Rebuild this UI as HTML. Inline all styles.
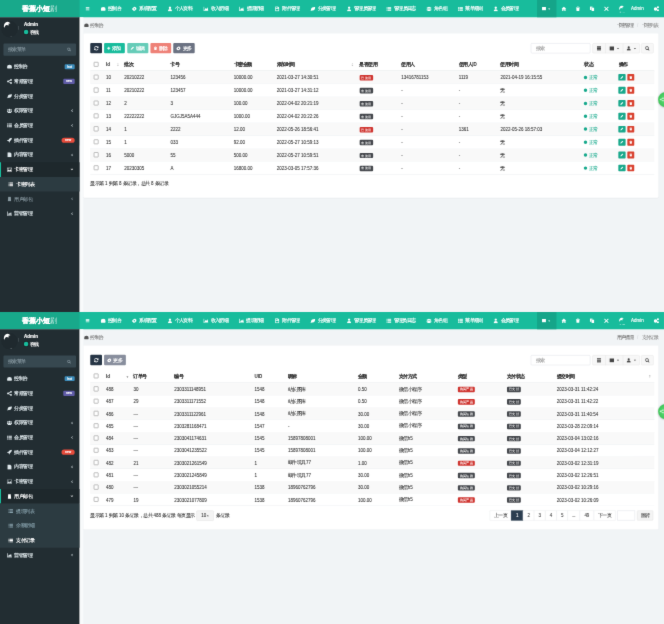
<!DOCTYPE html>
<html lang="zh"><head><meta charset="utf-8"><title>admin</title><style>
html,body{margin:0;padding:0;background:#f1f4f6;overflow:hidden}
#wrap{position:absolute;left:0;top:0;width:664px;height:624px;overflow:hidden;background:#f1f4f6;will-change:transform;filter:url(#soft)}
body{width:664px;height:624px;position:relative;font-family:"Liberation Sans",sans-serif}
#root{position:absolute;left:0;top:0;width:1920px;height:1804px;transform:scale(0.3458333) rotate(0.003deg);transform-origin:0 0;font-size:13px;color:#333;-webkit-text-stroke:0.2px;font-family:"Liberation Sans",sans-serif}
.scr{position:absolute;left:0;width:1920px;height:902.2px;overflow:hidden;background:#f1f4f6}
.a{position:absolute}
.t{height:20px;line-height:20px;white-space:nowrap}
.t30{height:30px;line-height:30px}
.w{-webkit-text-stroke:0.55px}
svg.a{overflow:visible}
</style></head>
<body>

<svg width="0" height="0" style="position:absolute">
<defs>
<symbol id="i-bars" viewBox="0 0 16 16"><path d="M1 2.5h14v2.6H1zM1 6.7h14v2.6H1zM1 10.9h14v2.6H1z"/></symbol>
<symbol id="i-dash" viewBox="0 0 16 16"><path d="M8 2a7.6 7.6 0 0 0-7.6 7.6c0 1.6.5 3.1 1.3 4.4h12.6a8 8 0 0 0 1.3-4.4A7.6 7.6 0 0 0 8 2z"/></symbol>
<symbol id="i-cog" viewBox="0 0 16 16"><path fill-rule="evenodd" d="M8 .8l1.6 1.7 2.3-.5.6 2.3 2.2.8-.7 2.2.7 2.3-2.2.8-.6 2.3-2.3-.5L8 15.2l-1.6-1.7-2.3.5-.6-2.3-2.2-.8.7-2.3L1.300 6.400l2.200-.800.600-2.300 2.300.5zM8 6a2 2 0 1 0 0 4 2 2 0 0 0 0-4z"/></symbol>
<symbol id="i-user" viewBox="0 0 16 16"><circle cx="8" cy="4.600" r="3.600"/><path d="M1.800 15.500c0-4.500 2.600-6.600 6.200-6.600s6.200 2.100 6.200 6.600z"/></symbol>
<symbol id="i-chart" viewBox="0 0 16 16"><path d="M.5 1.500h2v11.500h13v2H.5zM3.500 12l3.200-6.500 2.800 2.800 3.300-5 2.200 8.700z"/></symbol>
<symbol id="i-fileimg" viewBox="0 0 16 16"><path fill-rule="evenodd" d="M2 .5h8.500L14 4v11.500H2zM4 8v5h8V8zM4 3h5v2.500H4z"/></symbol>
<symbol id="i-leaf" viewBox="0 0 16 16"><path d="M15.500 2.500C9 2 3 4 2.500 9.500c-.2 1.500.2 2.600-1.800 4.500l1.300 1c1.500-1.800 2.500-2 5-1.700C13 13.500 15.500 8 15.500 2.500z"/></symbol>
<symbol id="i-users" viewBox="0 0 16 16"><circle cx="8" cy="5" r="3.200"/><circle cx="2.800" cy="5.500" r="2.300"/><circle cx="13.200" cy="5.500" r="2.300"/><path d="M3 15c0-4 2-6 5-6s5 2 5 6zM0 12.500c0-3 1.200-4.300 3-4.300.8 0 1.200.2 1.500.4C3 10 2.600 11.200 2.500 12.500zM16 12.500c0-3-1.200-4.300-3-4.300-.8 0-1.200.2-1.500.4 1.500 1.400 1.900 2.600 2 3.900z"/></symbol>
<symbol id="i-list" viewBox="0 0 16 16"><path d="M.5 2h3.300v3H.5zM5 2h10.500v3H5zM.5 6.500h3.300v3H.5zM5 6.500h10.500v3H5zM.5 11h3.300v3H.5zM5 11h10.500v3H5z"/></symbol>
<symbol id="i-th" viewBox="0 0 16 16"><path d="M.5 1.500h15v13H.5z"/></symbol>
<symbol id="i-refresh" viewBox="0 0 16 16"><path d="M8 1.200A6.800 6.800 0 0 1 13 3.400l1.800-1.800v5.600H9.200l2.100-2.100A4.400 4.400 0 0 0 3.800 6.700H1.300A6.800 6.800 0 0 1 8 1.200zM1.200 8.800h5.600L4.700 10.900a4.400 4.400 0 0 0 7.500-1.600h2.500A6.800 6.800 0 0 1 3 12.600l-1.800 1.800z"/></symbol>
<symbol id="i-plus" viewBox="0 0 16 16"><path d="M6 1.500h4V6h4.500v4H10v4.500H6V10H1.500V6H6z"/></symbol>
<symbol id="i-pencil" viewBox="0 0 16 16"><path d="M11.500 1l3.500 3.500-9 9L1 15l1.500-5z"/></symbol>
<symbol id="i-trash" viewBox="0 0 16 16"><path d="M5.500.8h5l.7 1.500H14.500V4.500h-13V2.300h3.300zM2.700 5.500h10.600l-.8 9.800h-9z"/></symbol>
<symbol id="i-search" viewBox="0 0 16 16"><path fill-rule="evenodd" d="M6.700.8a5.900 5.900 0 0 1 4.800 9.300l3.800 3.800-1.900 1.900-3.800-3.800A5.900 5.900 0 1 1 6.700.8zm0 2.300a3.600 3.600 0 1 0 0 7.200 3.600 3.600 0 0 0 0-7.200z"/></symbol>
<symbol id="i-home" viewBox="0 0 16 16"><path d="M8 1.200L.5 8h2.300v6.500h3.700V10h3v4.500h3.700V8h2.300z"/></symbol>
<symbol id="i-copy" viewBox="0 0 16 16"><path d="M1 1h8.500v3H5.500v8H1zM6.500 5H15v10.500H6.500z"/></symbol>
<symbol id="i-x" viewBox="0 0 16 16"><path d="M1 3l2-2 5 5 5-5 2 2-5 5 5 5-2 2-5-5-5 5-2-2 5-5z"/></symbol>
<symbol id="i-caret" viewBox="0 0 16 16"><path d="M2 5h12l-6 7z"/></symbol>
<symbol id="i-caretup" viewBox="0 0 16 16"><path d="M2 11h12L8 4z"/></symbol>
<symbol id="i-aleft" viewBox="0 0 16 16"><path d="M10.500 2l1.800 1.800L8 8l4.300 4.200-1.800 1.800-6-6z"/></symbol>
<symbol id="i-adown" viewBox="0 0 16 16"><path d="M2 5.500l1.800-1.800L8 8l4.200-4.300L14 5.500l-6 6z"/></symbol>
<symbol id="i-share" viewBox="0 0 16 16"><circle cx="3.300" cy="8" r="2.800"/><circle cx="12.700" cy="3.300" r="2.800"/><circle cx="12.700" cy="12.700" r="2.800"/><path d="M3 7l9.500-4.700.9 1.800L4 8.900zM4 7.100l9.400 4.800-.9 1.800L3 8.900z"/></symbol>
<symbol id="i-rocket" viewBox="0 0 16 16"><path d="M15.500.5c-5 .2-8 2.500-10.500 6.500l-3.500.5L.5 9.500l3.500.5 2 2 .5 3.500 2-1 .5-3.500c4-2.500 6.300-5.500 6.500-10.500z"/></symbol>
<symbol id="i-file" viewBox="0 0 16 16"><path d="M2 .5h8L14 4.500v11H2z"/></symbol>
<symbol id="i-image" viewBox="0 0 16 16"><path fill-rule="evenodd" d="M0 2h16v12H0zM1.500 3.500v9l3.500-4 2.500 2.500 3-4.500 4 6.500V3.500zM4.500 4.500a1.500 1.500 0 1 1 0 3 1.500 1.500 0 0 1 0-3z"/></symbol>
<symbol id="i-cogs" viewBox="0 0 16 16"><circle cx="5.500" cy="9" r="5"/><circle cx="12.500" cy="3.800" r="3"/><circle cx="12.500" cy="12.500" r="3"/></symbol>
<symbol id="i-sort" viewBox="0 0 16 16"><path d="M8 1l4 5.500H4zM8 15l4-5.500H4z"/></symbol>
<symbol id="i-sortd" viewBox="0 0 16 16"><path d="M8 13l5-7H3z"/></symbol>
<symbol id="i-columns" viewBox="0 0 16 16"><path d="M.5 1.500h15v13H.5z"/></symbol>
<symbol id="i-toggle" viewBox="0 0 16 16"><path d="M1.500 1h13v3.500h-13zM1.500 6h13v3.500h-13zM1.500 11h13v4h-13z"/></symbol>
<symbol id="i-export" viewBox="0 0 16 16"><circle cx="8" cy="4.500" r="3.500"/><path d="M1.500 15c0-4.500 2.800-6.500 6.500-6.500s6.500 2 6.500 6.500z"/></symbol>
<symbol id="i-yen" viewBox="0 0 16 16"><path d="M4 1h8l1 14H3z"/></symbol>
</defs></svg>

<svg width="0" height="0" style="position:absolute"><filter id="soft" x="0" y="0" width="100%" height="100%" color-interpolation-filters="sRGB"><feConvolveMatrix order="3" kernelMatrix="0.0074 0.0713 0.0074 0.0713 0.6853 0.0713 0.0074 0.0713 0.0074" divisor="1" edgeMode="duplicate" preserveAlpha="true"/></filter></svg>
<div id="wrap"><div id="root">
<div class="a " style="left:0.0px;top:0.0px;width:1920.0px;height:50.0px;background:#18bc9c"></div>
<div class="a " style="left:0.0px;top:0.0px;width:229.9px;height:50.0px;background:#18a98b"></div>
<div class="a t t30" style="left:-0.2px;width:230px;text-align:center;top:10.44px;color:#fff;font-size:19.5px;;-webkit-text-stroke:.38px"><b style="-webkit-text-stroke:.9px">香蕉小短</b><span style="-webkit-text-stroke:0;opacity:.8">剧</span></div>
<svg class="a" style="left:247.3px;top:18.9px;" width="12.5" height="12.5" fill="#fff"><use href="#i-bars"/></svg>
<svg class="a" style="left:290.7px;top:17.7px;" width="15" height="15" fill="#fff"><use href="#i-dash"/></svg>
<div class="a t " style="left:312.4px;top:14.7px;color:#fff;letter-spacing:-0.5px;-webkit-text-stroke:.38px">控制台</div>
<svg class="a" style="left:380.9px;top:17.7px;" width="15" height="15" fill="#fff"><use href="#i-cog"/></svg>
<div class="a t " style="left:402.5px;top:14.7px;color:#fff;letter-spacing:-0.5px;-webkit-text-stroke:.38px">系统配置</div>
<svg class="a" style="left:483.5px;top:17.7px;" width="15" height="15" fill="#fff"><use href="#i-user"/></svg>
<div class="a t " style="left:505.2px;top:14.7px;color:#fff;letter-spacing:-0.5px;-webkit-text-stroke:.38px">个人资料</div>
<svg class="a" style="left:587.6px;top:17.7px;" width="15" height="15" fill="#fff"><use href="#i-chart"/></svg>
<div class="a t " style="left:609.3px;top:14.7px;color:#fff;letter-spacing:-0.5px;-webkit-text-stroke:.38px">收入明细</div>
<svg class="a" style="left:691.1px;top:17.7px;" width="15" height="15" fill="#fff"><use href="#i-chart"/></svg>
<div class="a t " style="left:712.8px;top:14.7px;color:#fff;letter-spacing:-0.5px;-webkit-text-stroke:.38px">提现明细</div>
<svg class="a" style="left:794.4px;top:17.7px;" width="15" height="15" fill="#fff"><use href="#i-fileimg"/></svg>
<div class="a t " style="left:816.0px;top:14.7px;color:#fff;letter-spacing:-0.5px;-webkit-text-stroke:.38px">附件管理</div>
<svg class="a" style="left:897.0px;top:17.7px;" width="15" height="15" fill="#fff"><use href="#i-leaf"/></svg>
<div class="a t " style="left:918.7px;top:14.7px;color:#fff;letter-spacing:-0.5px;-webkit-text-stroke:.38px">分类管理</div>
<svg class="a" style="left:1001.6px;top:17.7px;" width="15" height="15" fill="#fff"><use href="#i-user"/></svg>
<div class="a t " style="left:1023.3px;top:14.7px;color:#fff;letter-spacing:-0.5px;-webkit-text-stroke:.38px">管理员管理</div>
<svg class="a" style="left:1117.3px;top:17.7px;" width="15" height="15" fill="#fff"><use href="#i-list"/></svg>
<div class="a t " style="left:1138.9px;top:14.7px;color:#fff;letter-spacing:-0.5px;-webkit-text-stroke:.38px">管理员日志</div>
<svg class="a" style="left:1233.4px;top:17.7px;" width="15" height="15" fill="#fff"><use href="#i-users"/></svg>
<div class="a t " style="left:1255.0px;top:14.7px;color:#fff;letter-spacing:-0.5px;-webkit-text-stroke:.38px">角色组</div>
<svg class="a" style="left:1323.5px;top:17.7px;" width="15" height="15" fill="#fff"><use href="#i-list"/></svg>
<div class="a t " style="left:1345.2px;top:14.7px;color:#fff;letter-spacing:-0.5px;-webkit-text-stroke:.38px">菜单规则</div>
<svg class="a" style="left:1426.2px;top:17.7px;" width="15" height="15" fill="#fff"><use href="#i-user"/></svg>
<div class="a t " style="left:1447.8px;top:14.7px;color:#fff;letter-spacing:-0.5px;-webkit-text-stroke:.38px">会员管理</div>
<div class="a " style="left:1552.5px;top:0.0px;width:56.4px;height:50.0px;background:#15a589"></div>
<svg class="a" style="left:1566.7px;top:19.2px;" width="12" height="12" fill="#fff"><use href="#i-th"/></svg>
<svg class="a" style="left:1584.3px;top:21.7px;" width="8" height="8" fill="#fff"><use href="#i-caret"/></svg>
<svg class="a" style="left:1623.3px;top:17.7px;" width="15" height="15" fill="#fff"><use href="#i-home"/></svg>
<svg class="a" style="left:1664.3px;top:18.2px;" width="14" height="14" fill="#fff"><use href="#i-trash"/></svg>
<svg class="a" style="left:1704.8px;top:18.2px;" width="14" height="14" fill="#fff"><use href="#i-copy"/></svg>
<svg class="a" style="left:1745.7px;top:17.7px;" width="15" height="15" fill="#fff"><use href="#i-x"/></svg>
<svg class="a" style="left:1788.1px;top:16.2px" width="17.9" height="13.3" viewBox="0 0 20 18" fill="#fff"><path d="M1 14C1 6 5 1 11 .5c4 0 7 2 8 6-2-1.500-4-1.500-5-.5 1 2 .5 4-1 5.500-1-2-2.500-2.500-4-2C6 10.500 4 12 3 17z"/></svg>
<div class="a " style="left:1791.6px;top:34.4px;width:4.6px;height:1.7px;background:rgba(255,255,255,.75)"></div>
<div class="a " style="left:1800.3px;top:35.0px;width:6.6px;height:1.4px;background:rgba(255,255,255,.6)"></div>
<div class="a t " style="left:1824.6px;top:14.7px;color:#fff;-webkit-text-stroke:.38px">Admin</div>
<svg class="a" style="left:1890.3px;top:17.2px;" width="16" height="16" fill="#fff"><use href="#i-cogs"/></svg>
<svg class="a" style="left:243.4px;top:66.4px;" width="14" height="14" fill="#555"><use href="#i-dash"/></svg>
<div class="a t " style="left:261.7px;top:63.7px;color:#777">控制台</div>
<div class="a t " style="right:16.5px;top:63.7px;letter-spacing:-1px"><span style="color:#777">卡密管理</span><span style="color:#d5d8db;padding:0 10.7px">/</span><span style="color:#888">卡密列表</span></div>
<div class="a " style="left:0.0px;top:50.0px;width:229.9px;height:852.2px;background:#222d32"></div>
<div class="a " style="left:227.6px;top:50.0px;width:2.3px;height:852.2px;background:#141b1f"></div>
<div class="a " style="left:229.9px;top:50.0px;width:11.0px;height:852.2px;background:#f8fafb"></div>
<div class="a" style="left:4.3px;top:60.9px;width:47px;height:47px;border-radius:50%;background:#1f292e"></div>
<svg class="a" style="left:9.8px;top:60.7px" width="20.8" height="22.0" viewBox="0 0 20 18" fill="#fff"><path d="M1 14C1 6 5 1 11 .5c4 0 7 2 8 6-2-1.500-4-1.500-5-.5 1 2 .5 4-1 5.500-1-2-2.500-2.500-4-2C6 10.500 4 12 3 17z"/></svg>
<div class="a " style="left:29.5px;top:104.1px;width:5.8px;height:1.4px;background:#7d878c"></div>
<div class="a " style="left:53.2px;top:75.2px;width:1.7px;height:11.0px;background:#4a555b"></div>
<div class="a t " style="left:69.7px;top:60.7px;color:#fff;font-size:13px;-webkit-text-stroke:.38px"><b>Admin</b></div>
<div class="a" style="left:69.0px;top:86.0px;width:13px;height:13px;border-radius:50%;background:#18bc9c;box-shadow:0 0 0 2px #1a2327"></div>
<div class="a t " style="left:85.6px;top:83.7px;color:#fff;font-size:13px;-webkit-text-stroke:.38px">在线</div>
<div class="a " style="left:9.8px;top:125.5px;width:210.0px;height:35.8px;background:#374850;border-radius:3px"></div>
<div class="a t " style="left:24.0px;top:132.7px;color:#8a9ba3;letter-spacing:-1px">搜索菜单</div>
<svg class="a" style="left:193.5px;top:137.4px;" width="12" height="12" fill="#8a9ba3"><use href="#i-search"/></svg>
<svg class="a" style="left:20.3px;top:185.4px;" width="15" height="15" fill="#dfe8ec"><use href="#i-dash"/></svg>
<div class="a t " style="left:41.9px;top:182.7px;color:#dfe8ec;-webkit-text-stroke:.38px">控制台</div>
<div class="a " style="left:187.4px;top:185.6px;width:28.3px;height:14.5px;background:#3c8dbc;border-radius:3px;color:#fff;font-size:9px;line-height:14px;text-align:center;font-weight:bold">hot</div>
<svg class="a" style="left:20.3px;top:227.9px;" width="15" height="15" fill="#dfe8ec"><use href="#i-share"/></svg>
<div class="a t " style="left:41.9px;top:225.7px;color:#dfe8ec;-webkit-text-stroke:.38px">常规管理</div>
<div class="a " style="left:183.3px;top:228.1px;width:32.4px;height:14.5px;background:#605ca8;border-radius:3px;color:#fff;font-size:9px;line-height:14px;text-align:center;font-weight:bold">new</div>
<svg class="a" style="left:20.3px;top:270.4px;" width="15" height="15" fill="#dfe8ec"><use href="#i-leaf"/></svg>
<div class="a t " style="left:41.9px;top:268.7px;color:#dfe8ec;-webkit-text-stroke:.38px">分类管理</div>
<svg class="a" style="left:20.3px;top:312.9px;" width="15" height="15" fill="#dfe8ec"><use href="#i-users"/></svg>
<div class="a t " style="left:41.9px;top:309.7px;color:#dfe8ec;-webkit-text-stroke:.38px">权限管理</div>
<svg class="a" style="left:203.2px;top:315.4px;" width="10" height="10" fill="#dfe8ec"><use href="#i-aleft"/></svg>
<svg class="a" style="left:20.3px;top:355.4px;" width="15" height="15" fill="#dfe8ec"><use href="#i-list"/></svg>
<div class="a t " style="left:41.9px;top:352.7px;color:#dfe8ec;-webkit-text-stroke:.38px">会员管理</div>
<svg class="a" style="left:203.2px;top:357.9px;" width="10" height="10" fill="#dfe8ec"><use href="#i-aleft"/></svg>
<svg class="a" style="left:20.3px;top:397.9px;" width="15" height="15" fill="#dfe8ec"><use href="#i-rocket"/></svg>
<div class="a t " style="left:41.9px;top:396.7px;color:#dfe8ec;-webkit-text-stroke:.38px">插件管理</div>
<div class="a " style="left:177.5px;top:397.6px;width:38.8px;height:15.6px;background:#e74c3c;border-radius:8px;color:#fff;font-size:9px;line-height:15px;text-align:center;font-weight:bold">new</div>
<svg class="a" style="left:20.3px;top:440.4px;" width="15" height="15" fill="#dfe8ec"><use href="#i-file"/></svg>
<div class="a t " style="left:41.9px;top:436.7px;color:#dfe8ec;-webkit-text-stroke:.38px">内容管理</div>
<svg class="a" style="left:203.2px;top:442.9px;" width="10" height="10" fill="#dfe8ec"><use href="#i-aleft"/></svg>
<div class="a " style="left:0.0px;top:469.2px;width:229.9px;height:42.5px;background:#1e282c"></div>
<div class="a " style="left:0.0px;top:469.2px;width:3.0px;height:42.5px;background:#18bc9c"></div>
<svg class="a" style="left:20.3px;top:482.9px;" width="15" height="15" fill="#fff"><use href="#i-image"/></svg>
<div class="a t " style="left:41.9px;top:479.7px;color:#fff;-webkit-text-stroke:.38px">卡密管理</div>
<svg class="a" style="left:203.2px;top:485.4px;" width="10" height="10" fill="#fff"><use href="#i-adown"/></svg>
<div class="a " style="left:0.0px;top:511.7px;width:229.9px;height:42.5px;background:#2c3b41"></div>
<svg class="a" style="left:23.7px;top:525.9px;" width="14" height="14" fill="#fff"><use href="#i-list"/></svg>
<div class="a t " style="left:47.7px;top:523.7px;color:#fff;-webkit-text-stroke:.38px">卡密列表</div>
<svg class="a" style="left:20.3px;top:567.9px;" width="15" height="15" fill="#8a9aa2"><use href="#i-yen"/></svg>
<div class="a t " style="left:41.9px;top:566.7px;color:#8a9aa2">用户邮包</div>
<svg class="a" style="left:203.2px;top:570.4px;" width="10" height="10" fill="#8a9aa2"><use href="#i-aleft"/></svg>
<svg class="a" style="left:20.3px;top:610.4px;" width="15" height="15" fill="#dfe8ec"><use href="#i-chart"/></svg>
<div class="a t " style="left:41.9px;top:607.7px;color:#dfe8ec;-webkit-text-stroke:.38px">营销管理</div>
<svg class="a" style="left:203.2px;top:612.9px;" width="10" height="10" fill="#dfe8ec"><use href="#i-aleft"/></svg>
<div class="a " style="left:240.9px;top:96.9px;width:1663.5px;height:475.6px;background:#fff;border-radius:3px;box-shadow:0 1px 2px rgba(0,0,0,.06)"></div>
<div class="a " style="left:261.0px;top:123.8px;width:33.9px;height:30.2px;background:#263545;border-radius:3px;"></div>
<svg class="a" style="left:270.7px;top:132.2px;" width="15" height="15" fill="#fff"><use href="#i-refresh"/></svg>
<div class="a " style="left:300.7px;top:123.8px;width:60.7px;height:30.2px;background:#18bc9c;border-radius:3px;"></div>
<svg class="a" style="left:308.5px;top:134.2px;" width="11" height="11" fill="#fff"><use href="#i-plus"/></svg>
<div class="a t " style="left:323.9px;top:130.7px;color:#fff;letter-spacing:-0.5px;-webkit-text-stroke:.38px">添加</div>
<div class="a " style="left:368.0px;top:123.8px;width:61.4px;height:30.2px;background:#66ccb8;border-radius:3px;"></div>
<svg class="a" style="left:377.1px;top:134.2px;" width="11" height="11" fill="#fff"><use href="#i-pencil"/></svg>
<div class="a t " style="left:393.0px;top:130.7px;color:#fff;letter-spacing:-0.5px;-webkit-text-stroke:.38px">编辑</div>
<div class="a " style="left:435.2px;top:123.8px;width:60.0px;height:30.2px;background:#ee8177;border-radius:3px;"></div>
<svg class="a" style="left:444.1px;top:134.2px;" width="11" height="11" fill="#fff"><use href="#i-trash"/></svg>
<div class="a t " style="left:459.5px;top:130.7px;color:#fff;letter-spacing:-0.5px;-webkit-text-stroke:.38px">删除</div>
<div class="a " style="left:501.0px;top:123.8px;width:62.1px;height:30.2px;background:#6b7282;border-radius:3px;"></div>
<svg class="a" style="left:509.4px;top:132.7px;" width="14" height="14" fill="#fff"><use href="#i-cog"/></svg>
<div class="a t " style="left:528.6px;top:130.7px;color:#fff;letter-spacing:-0.5px;-webkit-text-stroke:.38px">更多</div>
<div class="a " style="left:1535.4px;top:125.1px;width:172.1px;height:29.0px;background:#fff;border:1px solid #d2d6de;border-radius:3px;box-sizing:border-box"></div>
<div class="a t " style="left:1550.7px;top:130.7px;color:#999;letter-spacing:-1px">搜索</div>
<div class="a " style="left:1713.3px;top:125.1px;width:136.7px;height:29.0px;background:#f7f7f7;border:1px solid #e0e0e0;border-radius:3px;box-sizing:border-box"></div>
<div class="a " style="left:1750.8px;top:125.1px;width:0.9px;height:29.0px;background:#e0e0e0"></div>
<div class="a " style="left:1801.4px;top:125.1px;width:0.9px;height:29.0px;background:#e0e0e0"></div>
<svg class="a" style="left:1725.0px;top:132.7px;" width="14" height="14" fill="#444"><use href="#i-toggle"/></svg>
<svg class="a" style="left:1762.1px;top:132.7px;" width="14" height="14" fill="#444"><use href="#i-columns"/></svg>
<svg class="a" style="left:1783.0px;top:136.2px;" width="8" height="8" fill="#444"><use href="#i-caret"/></svg>
<svg class="a" style="left:1811.2px;top:132.7px;" width="14" height="14" fill="#444"><use href="#i-export"/></svg>
<svg class="a" style="left:1832.1px;top:136.2px;" width="8" height="8" fill="#444"><use href="#i-caret"/></svg>
<div class="a " style="left:1853.5px;top:125.1px;width:36.4px;height:29.0px;background:#f7f7f7;border:1px solid #e0e0e0;border-radius:3px;box-sizing:border-box"></div>
<svg class="a" style="left:1864.7px;top:132.7px;" width="14" height="14" fill="#444"><use href="#i-search"/></svg>
<div class="a " style="left:261.0px;top:204.1px;width:1631.2px;height:1.5px;background:#e4e7ea"></div>
<div class="a" style="left:270.6px;top:178.5px;width:14.5px;height:14.5px;box-sizing:border-box;border:2.4px solid #a2a2a2;border-radius:2px;background:#fff"></div>
<div class="a t " style="left:306.5px;top:176.7px;font-weight:bold;color:#333;-webkit-text-stroke:.1px">Id</div>
<div class="a t " style="left:359.3px;top:176.7px;font-weight:bold;color:#333;-webkit-text-stroke:.1px">批次</div>
<div class="a t " style="left:493.0px;top:176.7px;font-weight:bold;color:#333;-webkit-text-stroke:.1px">卡号</div>
<div class="a t " style="left:675.9px;top:176.7px;font-weight:bold;color:#333;-webkit-text-stroke:.1px">卡密金额</div>
<div class="a t " style="left:800.2px;top:176.7px;font-weight:bold;color:#333;-webkit-text-stroke:.1px">添加时间</div>
<div class="a t " style="left:1039.5px;top:176.7px;font-weight:bold;color:#333;-webkit-text-stroke:.1px">是否使用</div>
<div class="a t " style="left:1160.2px;top:176.7px;font-weight:bold;color:#333;-webkit-text-stroke:.1px">使用人</div>
<div class="a t " style="left:1326.5px;top:176.7px;font-weight:bold;color:#333;-webkit-text-stroke:.1px">使用人ID</div>
<div class="a t " style="left:1447.2px;top:176.7px;font-weight:bold;color:#333;-webkit-text-stroke:.1px">使用时间</div>
<div class="a t " style="left:1689.4px;top:176.7px;font-weight:bold;color:#333;-webkit-text-stroke:.1px">状态</div>
<div class="a t " style="left:1789.2px;top:176.7px;font-weight:bold;color:#333;-webkit-text-stroke:.1px">操作</div>
<svg class="a" style="left:336.2px;top:181.5px;" width="10" height="10" fill="#bbb"><use href="#i-sort"/></svg>
<svg class="a" style="left:1014.3px;top:181.5px;" width="10" height="10" fill="#bbb"><use href="#i-sort"/></svg>
<div class="a " style="left:261.0px;top:204.9px;width:1631.2px;height:37.4px;background:#f9f9f9"></div>
<div class="a " style="left:261.0px;top:241.7px;width:1631.2px;height:1.0px;background:#eceff1"></div>
<div class="a" style="left:270.6px;top:215.6px;width:14.5px;height:14.5px;box-sizing:border-box;border:2.4px solid #a2a2a2;border-radius:2px;background:#fff"></div>
<div class="a t " style="left:306.5px;top:213.7px;">10</div>
<div class="a t " style="left:359.3px;top:213.7px;">20210222</div>
<div class="a t " style="left:493.0px;top:213.7px;">123456</div>
<div class="a t " style="left:675.9px;top:213.7px;">10000.00</div>
<div class="a t " style="left:800.2px;top:213.7px;">2021-03-27 14:30:51</div>
<div class="a " style="left:1039.8px;top:216.9px;width:39.3px;height:15.9px;background:#cf3530;border-radius:3px;color:rgba(255,255,255,.85);font-size:9.5px;line-height:16px;text-align:center;overflow:hidden;white-space:nowrap">已使用</div>
<div class="a t " style="left:1160.2px;top:213.7px;">13416781153</div>
<div class="a t " style="left:1326.5px;top:213.7px;">1119</div>
<div class="a t " style="left:1447.2px;top:213.7px;">2021-04-19 16:15:55</div>
<div class="a" style="left:1688.0px;top:218.6px;width:10px;height:10px;border-radius:50%;background:#17a98c"></div>
<div class="a t " style="left:1702.6px;top:213.7px;color:#17a98c">正常</div>
<div class="a " style="left:1787.9px;top:213.8px;width:21.1px;height:19.6px;background:#18a88b;border-radius:2px"></div>
<svg class="a" style="left:1793.4px;top:218.6px;" width="10" height="10" fill="#fff"><use href="#i-pencil"/></svg>
<div class="a " style="left:1813.6px;top:213.8px;width:20.5px;height:19.6px;background:#d9412f;border-radius:2px"></div>
<svg class="a" style="left:1818.9px;top:218.6px;" width="10" height="10" fill="#fff"><use href="#i-trash"/></svg>
<div class="a " style="left:261.0px;top:279.2px;width:1631.2px;height:1.0px;background:#eceff1"></div>
<div class="a" style="left:270.6px;top:253.0px;width:14.5px;height:14.5px;box-sizing:border-box;border:2.4px solid #a2a2a2;border-radius:2px;background:#fff"></div>
<div class="a t " style="left:306.5px;top:251.7px;">11</div>
<div class="a t " style="left:359.3px;top:251.7px;">20210222</div>
<div class="a t " style="left:493.0px;top:251.7px;">123457</div>
<div class="a t " style="left:675.9px;top:251.7px;">10000.00</div>
<div class="a t " style="left:800.2px;top:251.7px;">2021-03-27 14:31:12</div>
<div class="a " style="left:1039.8px;top:254.4px;width:39.3px;height:15.9px;background:#45484d;border-radius:3px;color:rgba(255,255,255,.85);font-size:9.5px;line-height:16px;text-align:center;overflow:hidden;white-space:nowrap">未使用</div>
<div class="a t " style="left:1160.2px;top:251.7px;">-</div>
<div class="a t " style="left:1326.5px;top:251.7px;">-</div>
<div class="a t " style="left:1447.2px;top:251.7px;">无</div>
<div class="a" style="left:1688.0px;top:256.0px;width:10px;height:10px;border-radius:50%;background:#17a98c"></div>
<div class="a t " style="left:1702.6px;top:251.7px;color:#17a98c">正常</div>
<div class="a " style="left:1787.9px;top:251.2px;width:21.1px;height:19.7px;background:#18a88b;border-radius:2px"></div>
<svg class="a" style="left:1793.4px;top:256.0px;" width="10" height="10" fill="#fff"><use href="#i-pencil"/></svg>
<div class="a " style="left:1813.6px;top:251.2px;width:20.5px;height:19.7px;background:#d9412f;border-radius:2px"></div>
<svg class="a" style="left:1818.9px;top:256.0px;" width="10" height="10" fill="#fff"><use href="#i-trash"/></svg>
<div class="a " style="left:261.0px;top:279.8px;width:1631.2px;height:37.4px;background:#f9f9f9"></div>
<div class="a " style="left:261.0px;top:316.6px;width:1631.2px;height:1.0px;background:#eceff1"></div>
<div class="a" style="left:270.6px;top:290.5px;width:14.5px;height:14.5px;box-sizing:border-box;border:2.4px solid #a2a2a2;border-radius:2px;background:#fff"></div>
<div class="a t " style="left:306.5px;top:289.7px;">12</div>
<div class="a t " style="left:359.3px;top:289.7px;">2</div>
<div class="a t " style="left:493.0px;top:289.7px;">3</div>
<div class="a t " style="left:675.9px;top:289.7px;">100.00</div>
<div class="a t " style="left:800.2px;top:289.7px;">2022-04-02 20:21:19</div>
<div class="a " style="left:1039.8px;top:291.8px;width:39.3px;height:15.9px;background:#45484d;border-radius:3px;color:rgba(255,255,255,.85);font-size:9.5px;line-height:16px;text-align:center;overflow:hidden;white-space:nowrap">未使用</div>
<div class="a t " style="left:1160.2px;top:289.7px;">-</div>
<div class="a t " style="left:1326.5px;top:289.7px;">-</div>
<div class="a t " style="left:1447.2px;top:289.7px;">无</div>
<div class="a" style="left:1688.0px;top:293.5px;width:10px;height:10px;border-radius:50%;background:#17a98c"></div>
<div class="a t " style="left:1702.6px;top:289.7px;color:#17a98c">正常</div>
<div class="a " style="left:1787.9px;top:288.7px;width:21.1px;height:19.6px;background:#18a88b;border-radius:2px"></div>
<svg class="a" style="left:1793.4px;top:293.5px;" width="10" height="10" fill="#fff"><use href="#i-pencil"/></svg>
<div class="a " style="left:1813.6px;top:288.7px;width:20.5px;height:19.6px;background:#d9412f;border-radius:2px"></div>
<svg class="a" style="left:1818.9px;top:293.5px;" width="10" height="10" fill="#fff"><use href="#i-trash"/></svg>
<div class="a " style="left:261.0px;top:354.1px;width:1631.2px;height:1.0px;background:#eceff1"></div>
<div class="a" style="left:270.6px;top:327.9px;width:14.5px;height:14.5px;box-sizing:border-box;border:2.4px solid #a2a2a2;border-radius:2px;background:#fff"></div>
<div class="a t " style="left:306.5px;top:326.7px;">13</div>
<div class="a t " style="left:359.3px;top:326.7px;">22222222</div>
<div class="a t " style="left:493.0px;top:326.7px;">GJGJ5A5A444</div>
<div class="a t " style="left:675.9px;top:326.7px;">1000.00</div>
<div class="a t " style="left:800.2px;top:326.7px;">2022-04-02 20:22:26</div>
<div class="a " style="left:1039.8px;top:329.3px;width:39.3px;height:15.9px;background:#45484d;border-radius:3px;color:rgba(255,255,255,.85);font-size:9.5px;line-height:16px;text-align:center;overflow:hidden;white-space:nowrap">未使用</div>
<div class="a t " style="left:1160.2px;top:326.7px;">-</div>
<div class="a t " style="left:1326.5px;top:326.7px;">-</div>
<div class="a t " style="left:1447.2px;top:326.7px;">无</div>
<div class="a" style="left:1688.0px;top:330.9px;width:10px;height:10px;border-radius:50%;background:#17a98c"></div>
<div class="a t " style="left:1702.6px;top:326.7px;color:#17a98c">正常</div>
<div class="a " style="left:1787.9px;top:326.1px;width:21.1px;height:19.7px;background:#18a88b;border-radius:2px"></div>
<svg class="a" style="left:1793.4px;top:330.9px;" width="10" height="10" fill="#fff"><use href="#i-pencil"/></svg>
<div class="a " style="left:1813.6px;top:326.1px;width:20.5px;height:19.7px;background:#d9412f;border-radius:2px"></div>
<svg class="a" style="left:1818.9px;top:330.9px;" width="10" height="10" fill="#fff"><use href="#i-trash"/></svg>
<div class="a " style="left:261.0px;top:354.7px;width:1631.2px;height:37.4px;background:#f9f9f9"></div>
<div class="a " style="left:261.0px;top:391.5px;width:1631.2px;height:1.0px;background:#eceff1"></div>
<div class="a" style="left:270.6px;top:365.4px;width:14.5px;height:14.5px;box-sizing:border-box;border:2.4px solid #a2a2a2;border-radius:2px;background:#fff"></div>
<div class="a t " style="left:306.5px;top:364.7px;">14</div>
<div class="a t " style="left:359.3px;top:364.7px;">1</div>
<div class="a t " style="left:493.0px;top:364.7px;">2222</div>
<div class="a t " style="left:675.9px;top:364.7px;">12.00</div>
<div class="a t " style="left:800.2px;top:364.7px;">2022-05-26 18:56:41</div>
<div class="a " style="left:1039.8px;top:366.7px;width:39.3px;height:15.9px;background:#cf3530;border-radius:3px;color:rgba(255,255,255,.85);font-size:9.5px;line-height:16px;text-align:center;overflow:hidden;white-space:nowrap">已使用</div>
<div class="a t " style="left:1160.2px;top:364.7px;">-</div>
<div class="a t " style="left:1326.5px;top:364.7px;">1361</div>
<div class="a t " style="left:1447.2px;top:364.7px;">2022-05-26 18:57:03</div>
<div class="a" style="left:1688.0px;top:368.4px;width:10px;height:10px;border-radius:50%;background:#17a98c"></div>
<div class="a t " style="left:1702.6px;top:364.7px;color:#17a98c">正常</div>
<div class="a " style="left:1787.9px;top:363.5px;width:21.1px;height:19.7px;background:#18a88b;border-radius:2px"></div>
<svg class="a" style="left:1793.4px;top:368.4px;" width="10" height="10" fill="#fff"><use href="#i-pencil"/></svg>
<div class="a " style="left:1813.6px;top:363.5px;width:20.5px;height:19.7px;background:#d9412f;border-radius:2px"></div>
<svg class="a" style="left:1818.9px;top:368.4px;" width="10" height="10" fill="#fff"><use href="#i-trash"/></svg>
<div class="a " style="left:261.0px;top:429.0px;width:1631.2px;height:1.0px;background:#eceff1"></div>
<div class="a" style="left:270.6px;top:402.8px;width:14.5px;height:14.5px;box-sizing:border-box;border:2.4px solid #a2a2a2;border-radius:2px;background:#fff"></div>
<div class="a t " style="left:306.5px;top:401.7px;">15</div>
<div class="a t " style="left:359.3px;top:401.7px;">1</div>
<div class="a t " style="left:493.0px;top:401.7px;">033</div>
<div class="a t " style="left:675.9px;top:401.7px;">92.00</div>
<div class="a t " style="left:800.2px;top:401.7px;">2022-05-27 10:59:13</div>
<div class="a " style="left:1039.8px;top:404.2px;width:39.3px;height:15.9px;background:#45484d;border-radius:3px;color:rgba(255,255,255,.85);font-size:9.5px;line-height:16px;text-align:center;overflow:hidden;white-space:nowrap">未使用</div>
<div class="a t " style="left:1160.2px;top:401.7px;">-</div>
<div class="a t " style="left:1326.5px;top:401.7px;">-</div>
<div class="a t " style="left:1447.2px;top:401.7px;">无</div>
<div class="a" style="left:1688.0px;top:405.8px;width:10px;height:10px;border-radius:50%;background:#17a98c"></div>
<div class="a t " style="left:1702.6px;top:401.7px;color:#17a98c">正常</div>
<div class="a " style="left:1787.9px;top:401.0px;width:21.1px;height:19.7px;background:#18a88b;border-radius:2px"></div>
<svg class="a" style="left:1793.4px;top:405.8px;" width="10" height="10" fill="#fff"><use href="#i-pencil"/></svg>
<div class="a " style="left:1813.6px;top:401.0px;width:20.5px;height:19.7px;background:#d9412f;border-radius:2px"></div>
<svg class="a" style="left:1818.9px;top:405.8px;" width="10" height="10" fill="#fff"><use href="#i-trash"/></svg>
<div class="a " style="left:261.0px;top:429.5px;width:1631.2px;height:37.5px;background:#f9f9f9"></div>
<div class="a " style="left:261.0px;top:466.4px;width:1631.2px;height:1.0px;background:#eceff1"></div>
<div class="a" style="left:270.6px;top:440.3px;width:14.5px;height:14.5px;box-sizing:border-box;border:2.4px solid #a2a2a2;border-radius:2px;background:#fff"></div>
<div class="a t " style="left:306.5px;top:439.7px;">16</div>
<div class="a t " style="left:359.3px;top:439.7px;">5000</div>
<div class="a t " style="left:493.0px;top:439.7px;">55</div>
<div class="a t " style="left:675.9px;top:439.7px;">500.00</div>
<div class="a t " style="left:800.2px;top:439.7px;">2022-05-27 10:59:51</div>
<div class="a " style="left:1039.8px;top:441.6px;width:39.3px;height:15.9px;background:#45484d;border-radius:3px;color:rgba(255,255,255,.85);font-size:9.5px;line-height:16px;text-align:center;overflow:hidden;white-space:nowrap">未使用</div>
<div class="a t " style="left:1160.2px;top:439.7px;">-</div>
<div class="a t " style="left:1326.5px;top:439.7px;">-</div>
<div class="a t " style="left:1447.2px;top:439.7px;">无</div>
<div class="a" style="left:1688.0px;top:443.3px;width:10px;height:10px;border-radius:50%;background:#17a98c"></div>
<div class="a t " style="left:1702.6px;top:439.7px;color:#17a98c">正常</div>
<div class="a " style="left:1787.9px;top:438.4px;width:21.1px;height:19.7px;background:#18a88b;border-radius:2px"></div>
<svg class="a" style="left:1793.4px;top:443.3px;" width="10" height="10" fill="#fff"><use href="#i-pencil"/></svg>
<div class="a " style="left:1813.6px;top:438.4px;width:20.5px;height:19.7px;background:#d9412f;border-radius:2px"></div>
<svg class="a" style="left:1818.9px;top:443.3px;" width="10" height="10" fill="#fff"><use href="#i-trash"/></svg>
<div class="a " style="left:261.0px;top:503.9px;width:1631.2px;height:1.0px;background:#eceff1"></div>
<div class="a" style="left:270.6px;top:477.7px;width:14.5px;height:14.5px;box-sizing:border-box;border:2.4px solid #a2a2a2;border-radius:2px;background:#fff"></div>
<div class="a t " style="left:306.5px;top:477.7px;">17</div>
<div class="a t " style="left:359.3px;top:477.7px;">20230305</div>
<div class="a t " style="left:493.0px;top:477.7px;">A</div>
<div class="a t " style="left:675.9px;top:477.7px;">16800.00</div>
<div class="a t " style="left:800.2px;top:477.7px;">2023-03-05 17:57:36</div>
<div class="a " style="left:1039.8px;top:479.1px;width:39.3px;height:15.9px;background:#45484d;border-radius:3px;color:rgba(255,255,255,.85);font-size:9.5px;line-height:16px;text-align:center;overflow:hidden;white-space:nowrap">未使用</div>
<div class="a t " style="left:1160.2px;top:477.7px;">-</div>
<div class="a t " style="left:1326.5px;top:477.7px;">-</div>
<div class="a t " style="left:1447.2px;top:477.7px;">无</div>
<div class="a" style="left:1688.0px;top:480.7px;width:10px;height:10px;border-radius:50%;background:#17a98c"></div>
<div class="a t " style="left:1702.6px;top:477.7px;color:#17a98c">正常</div>
<div class="a " style="left:1787.9px;top:475.9px;width:21.1px;height:19.6px;background:#18a88b;border-radius:2px"></div>
<svg class="a" style="left:1793.4px;top:480.7px;" width="10" height="10" fill="#fff"><use href="#i-pencil"/></svg>
<div class="a " style="left:1813.6px;top:475.9px;width:20.5px;height:19.6px;background:#d9412f;border-radius:2px"></div>
<svg class="a" style="left:1818.9px;top:480.7px;" width="10" height="10" fill="#fff"><use href="#i-trash"/></svg>
<div class="a t " style="left:261.0px;top:520.7px;color:#333">显示第 1 到第 8 条记录，总共 8 条记录</div>
<div class="a" style="left:1902.6px;top:265.7px;width:44px;height:44px;border-radius:50%;background:radial-gradient(circle,#62e07a 0%,#45c95e 60%,#2fa84a 100%);box-shadow:0 1px 5px rgba(0,0,0,.35)"></div><svg class="a" style="left:1907.1px;top:281.2px;" width="13" height="13" fill="#c9f7d1"><use href="#i-share"/></svg>
<div class="a " style="left:0.0px;top:902.2px;width:1920.0px;height:50.0px;background:#18bc9c"></div>
<div class="a " style="left:0.0px;top:902.2px;width:229.9px;height:50.0px;background:#18a98b"></div>
<div class="a t t30" style="left:-0.2px;width:230px;text-align:center;top:912.44px;color:#fff;font-size:19.5px;;-webkit-text-stroke:.38px"><b style="-webkit-text-stroke:.9px">香蕉小短</b><span style="-webkit-text-stroke:0;opacity:.8">剧</span></div>
<svg class="a" style="left:247.3px;top:921.0px;" width="12.5" height="12.5" fill="#fff"><use href="#i-bars"/></svg>
<svg class="a" style="left:290.7px;top:919.8px;" width="15" height="15" fill="#fff"><use href="#i-dash"/></svg>
<div class="a t " style="left:312.4px;top:916.7px;color:#fff;letter-spacing:-0.5px;-webkit-text-stroke:.38px">控制台</div>
<svg class="a" style="left:380.9px;top:919.8px;" width="15" height="15" fill="#fff"><use href="#i-cog"/></svg>
<div class="a t " style="left:402.5px;top:916.7px;color:#fff;letter-spacing:-0.5px;-webkit-text-stroke:.38px">系统配置</div>
<svg class="a" style="left:483.5px;top:919.8px;" width="15" height="15" fill="#fff"><use href="#i-user"/></svg>
<div class="a t " style="left:505.2px;top:916.7px;color:#fff;letter-spacing:-0.5px;-webkit-text-stroke:.38px">个人资料</div>
<svg class="a" style="left:587.6px;top:919.8px;" width="15" height="15" fill="#fff"><use href="#i-chart"/></svg>
<div class="a t " style="left:609.3px;top:916.7px;color:#fff;letter-spacing:-0.5px;-webkit-text-stroke:.38px">收入明细</div>
<svg class="a" style="left:691.1px;top:919.8px;" width="15" height="15" fill="#fff"><use href="#i-chart"/></svg>
<div class="a t " style="left:712.8px;top:916.7px;color:#fff;letter-spacing:-0.5px;-webkit-text-stroke:.38px">提现明细</div>
<svg class="a" style="left:794.4px;top:919.8px;" width="15" height="15" fill="#fff"><use href="#i-fileimg"/></svg>
<div class="a t " style="left:816.0px;top:916.7px;color:#fff;letter-spacing:-0.5px;-webkit-text-stroke:.38px">附件管理</div>
<svg class="a" style="left:897.0px;top:919.8px;" width="15" height="15" fill="#fff"><use href="#i-leaf"/></svg>
<div class="a t " style="left:918.7px;top:916.7px;color:#fff;letter-spacing:-0.5px;-webkit-text-stroke:.38px">分类管理</div>
<svg class="a" style="left:1001.6px;top:919.8px;" width="15" height="15" fill="#fff"><use href="#i-user"/></svg>
<div class="a t " style="left:1023.3px;top:916.7px;color:#fff;letter-spacing:-0.5px;-webkit-text-stroke:.38px">管理员管理</div>
<svg class="a" style="left:1117.3px;top:919.8px;" width="15" height="15" fill="#fff"><use href="#i-list"/></svg>
<div class="a t " style="left:1138.9px;top:916.7px;color:#fff;letter-spacing:-0.5px;-webkit-text-stroke:.38px">管理员日志</div>
<svg class="a" style="left:1233.4px;top:919.8px;" width="15" height="15" fill="#fff"><use href="#i-users"/></svg>
<div class="a t " style="left:1255.0px;top:916.7px;color:#fff;letter-spacing:-0.5px;-webkit-text-stroke:.38px">角色组</div>
<svg class="a" style="left:1323.5px;top:919.8px;" width="15" height="15" fill="#fff"><use href="#i-list"/></svg>
<div class="a t " style="left:1345.2px;top:916.7px;color:#fff;letter-spacing:-0.5px;-webkit-text-stroke:.38px">菜单规则</div>
<svg class="a" style="left:1426.2px;top:919.8px;" width="15" height="15" fill="#fff"><use href="#i-user"/></svg>
<div class="a t " style="left:1447.8px;top:916.7px;color:#fff;letter-spacing:-0.5px;-webkit-text-stroke:.38px">会员管理</div>
<div class="a " style="left:1552.5px;top:902.2px;width:56.4px;height:50.0px;background:#15a589"></div>
<svg class="a" style="left:1566.7px;top:921.3px;" width="12" height="12" fill="#fff"><use href="#i-th"/></svg>
<svg class="a" style="left:1584.3px;top:923.9px;" width="8" height="8" fill="#fff"><use href="#i-caret"/></svg>
<svg class="a" style="left:1623.3px;top:919.8px;" width="15" height="15" fill="#fff"><use href="#i-home"/></svg>
<svg class="a" style="left:1664.3px;top:920.3px;" width="14" height="14" fill="#fff"><use href="#i-trash"/></svg>
<svg class="a" style="left:1704.8px;top:920.3px;" width="14" height="14" fill="#fff"><use href="#i-copy"/></svg>
<svg class="a" style="left:1745.7px;top:919.8px;" width="15" height="15" fill="#fff"><use href="#i-x"/></svg>
<svg class="a" style="left:1788.1px;top:918.4px" width="17.9" height="13.3" viewBox="0 0 20 18" fill="#fff"><path d="M1 14C1 6 5 1 11 .5c4 0 7 2 8 6-2-1.500-4-1.500-5-.5 1 2 .5 4-1 5.500-1-2-2.500-2.500-4-2C6 10.500 4 12 3 17z"/></svg>
<div class="a " style="left:1791.6px;top:936.6px;width:4.6px;height:1.7px;background:rgba(255,255,255,.75)"></div>
<div class="a " style="left:1800.3px;top:937.2px;width:6.6px;height:1.4px;background:rgba(255,255,255,.6)"></div>
<div class="a t " style="left:1824.6px;top:916.7px;color:#fff;-webkit-text-stroke:.38px">Admin</div>
<svg class="a" style="left:1890.3px;top:919.3px;" width="16" height="16" fill="#fff"><use href="#i-cogs"/></svg>
<svg class="a" style="left:243.4px;top:968.6px;" width="14" height="14" fill="#555"><use href="#i-dash"/></svg>
<div class="a t " style="left:261.7px;top:965.7px;color:#777">控制台</div>
<div class="a t " style="right:16.5px;top:965.7px;letter-spacing:-1px"><span style="color:#777">用户提现</span><span style="color:#d5d8db;padding:0 10.7px">/</span><span style="color:#888">支付记录</span></div>
<div class="a " style="left:0.0px;top:952.2px;width:229.9px;height:852.1px;background:#222d32"></div>
<div class="a " style="left:227.6px;top:952.2px;width:2.3px;height:852.1px;background:#141b1f"></div>
<div class="a " style="left:229.9px;top:952.2px;width:11.0px;height:852.1px;background:#f8fafb"></div>
<div class="a" style="left:4.3px;top:963.1px;width:47px;height:47px;border-radius:50%;background:#1f292e"></div>
<svg class="a" style="left:9.8px;top:962.9px" width="20.8" height="22.0" viewBox="0 0 20 18" fill="#fff"><path d="M1 14C1 6 5 1 11 .5c4 0 7 2 8 6-2-1.500-4-1.500-5-.5 1 2 .5 4-1 5.500-1-2-2.500-2.500-4-2C6 10.500 4 12 3 17z"/></svg>
<div class="a " style="left:29.5px;top:1006.3px;width:5.8px;height:1.4px;background:#7d878c"></div>
<div class="a " style="left:53.2px;top:977.3px;width:1.7px;height:11.0px;background:#4a555b"></div>
<div class="a t " style="left:69.7px;top:962.7px;color:#fff;font-size:13px;-webkit-text-stroke:.38px"><b>Admin</b></div>
<div class="a" style="left:69.0px;top:988.2px;width:13px;height:13px;border-radius:50%;background:#18bc9c;box-shadow:0 0 0 2px #1a2327"></div>
<div class="a t " style="left:85.6px;top:985.7px;color:#fff;font-size:13px;-webkit-text-stroke:.38px">在线</div>
<div class="a " style="left:9.8px;top:1027.7px;width:210.0px;height:35.8px;background:#374850;border-radius:3px"></div>
<div class="a t " style="left:24.0px;top:1035.7px;color:#8a9ba3;letter-spacing:-1px">搜索菜单</div>
<svg class="a" style="left:193.5px;top:1039.6px;" width="12" height="12" fill="#8a9ba3"><use href="#i-search"/></svg>
<svg class="a" style="left:20.3px;top:1087.5px;" width="15" height="15" fill="#dfe8ec"><use href="#i-dash"/></svg>
<div class="a t " style="left:41.9px;top:1084.7px;color:#dfe8ec;-webkit-text-stroke:.38px">控制台</div>
<div class="a " style="left:187.4px;top:1087.8px;width:28.3px;height:14.5px;background:#3c8dbc;border-radius:3px;color:#fff;font-size:9px;line-height:14px;text-align:center;font-weight:bold">hot</div>
<svg class="a" style="left:20.3px;top:1130.0px;" width="15" height="15" fill="#dfe8ec"><use href="#i-share"/></svg>
<div class="a t " style="left:41.9px;top:1127.7px;color:#dfe8ec;-webkit-text-stroke:.38px">常规管理</div>
<div class="a " style="left:183.3px;top:1130.3px;width:32.4px;height:14.5px;background:#605ca8;border-radius:3px;color:#fff;font-size:9px;line-height:14px;text-align:center;font-weight:bold">new</div>
<svg class="a" style="left:20.3px;top:1172.5px;" width="15" height="15" fill="#dfe8ec"><use href="#i-leaf"/></svg>
<div class="a t " style="left:41.9px;top:1171.7px;color:#dfe8ec;-webkit-text-stroke:.38px">分类管理</div>
<svg class="a" style="left:20.3px;top:1215.1px;" width="15" height="15" fill="#dfe8ec"><use href="#i-users"/></svg>
<div class="a t " style="left:41.9px;top:1211.7px;color:#dfe8ec;-webkit-text-stroke:.38px">权限管理</div>
<svg class="a" style="left:203.2px;top:1217.6px;" width="10" height="10" fill="#dfe8ec"><use href="#i-aleft"/></svg>
<svg class="a" style="left:20.3px;top:1257.6px;" width="15" height="15" fill="#dfe8ec"><use href="#i-list"/></svg>
<div class="a t " style="left:41.9px;top:1254.7px;color:#dfe8ec;-webkit-text-stroke:.38px">会员管理</div>
<svg class="a" style="left:203.2px;top:1260.1px;" width="10" height="10" fill="#dfe8ec"><use href="#i-aleft"/></svg>
<svg class="a" style="left:20.3px;top:1300.1px;" width="15" height="15" fill="#dfe8ec"><use href="#i-rocket"/></svg>
<div class="a t " style="left:41.9px;top:1298.7px;color:#dfe8ec;-webkit-text-stroke:.38px">插件管理</div>
<div class="a " style="left:177.5px;top:1299.8px;width:38.8px;height:15.6px;background:#e74c3c;border-radius:8px;color:#fff;font-size:9px;line-height:15px;text-align:center;font-weight:bold">new</div>
<svg class="a" style="left:20.3px;top:1342.6px;" width="15" height="15" fill="#dfe8ec"><use href="#i-file"/></svg>
<div class="a t " style="left:41.9px;top:1338.7px;color:#dfe8ec;-webkit-text-stroke:.38px">内容管理</div>
<svg class="a" style="left:203.2px;top:1345.1px;" width="10" height="10" fill="#dfe8ec"><use href="#i-aleft"/></svg>
<svg class="a" style="left:20.3px;top:1385.1px;" width="15" height="15" fill="#dfe8ec"><use href="#i-image"/></svg>
<div class="a t " style="left:41.9px;top:1382.7px;color:#dfe8ec;-webkit-text-stroke:.38px">卡密管理</div>
<svg class="a" style="left:203.2px;top:1387.6px;" width="10" height="10" fill="#dfe8ec"><use href="#i-aleft"/></svg>
<div class="a " style="left:0.0px;top:1413.8px;width:229.9px;height:42.5px;background:#1e282c"></div>
<div class="a " style="left:0.0px;top:1413.8px;width:3.0px;height:42.5px;background:#18bc9c"></div>
<svg class="a" style="left:20.3px;top:1427.6px;" width="15" height="15" fill="#fff"><use href="#i-yen"/></svg>
<div class="a t " style="left:41.9px;top:1425.7px;color:#fff;-webkit-text-stroke:.38px">用户邮包</div>
<svg class="a" style="left:203.2px;top:1430.1px;" width="10" height="10" fill="#fff"><use href="#i-adown"/></svg>
<div class="a " style="left:0.0px;top:1456.3px;width:229.9px;height:127.6px;background:#2c3b41"></div>
<svg class="a" style="left:23.7px;top:1470.6px;" width="14" height="14" fill="#8aa4af"><use href="#i-list"/></svg>
<div class="a t " style="left:47.7px;top:1468.7px;color:#8aa4af">提现列表</div>
<svg class="a" style="left:23.7px;top:1513.1px;" width="14" height="14" fill="#8aa4af"><use href="#i-list"/></svg>
<div class="a t " style="left:47.7px;top:1509.7px;color:#8aa4af">余额明细</div>
<svg class="a" style="left:23.7px;top:1555.6px;" width="14" height="14" fill="#fff"><use href="#i-list"/></svg>
<div class="a t " style="left:47.7px;top:1552.7px;color:#fff;-webkit-text-stroke:.38px">支付记录</div>
<svg class="a" style="left:20.3px;top:1597.6px;" width="15" height="15" fill="#dfe8ec"><use href="#i-chart"/></svg>
<div class="a t " style="left:41.9px;top:1596.7px;color:#dfe8ec;-webkit-text-stroke:.38px">营销管理</div>
<svg class="a" style="left:203.2px;top:1600.1px;" width="10" height="10" fill="#dfe8ec"><use href="#i-aleft"/></svg>
<div class="a " style="left:240.9px;top:999.0px;width:1663.5px;height:531.5px;background:#fff;border-radius:3px;box-shadow:0 1px 2px rgba(0,0,0,.06)"></div>
<div class="a " style="left:261.0px;top:1025.9px;width:33.9px;height:30.2px;background:#263545;border-radius:3px;"></div>
<svg class="a" style="left:270.7px;top:1034.3px;" width="15" height="15" fill="#fff"><use href="#i-refresh"/></svg>
<div class="a " style="left:301.3px;top:1025.9px;width:62.5px;height:30.2px;background:#888e9d;border-radius:3px;"></div>
<svg class="a" style="left:309.3px;top:1034.8px;" width="14" height="14" fill="#fff"><use href="#i-cog"/></svg>
<div class="a t " style="left:328.2px;top:1032.7px;color:#fff;letter-spacing:-0.5px;-webkit-text-stroke:.38px">更多</div>
<div class="a " style="left:1535.4px;top:1027.2px;width:172.1px;height:29.1px;background:#fff;border:1px solid #d2d6de;border-radius:3px;box-sizing:border-box"></div>
<div class="a t " style="left:1550.7px;top:1032.7px;color:#999;letter-spacing:-1px">搜索</div>
<div class="a " style="left:1713.3px;top:1027.2px;width:136.7px;height:29.1px;background:#f7f7f7;border:1px solid #e0e0e0;border-radius:3px;box-sizing:border-box"></div>
<div class="a " style="left:1750.8px;top:1027.2px;width:0.9px;height:29.1px;background:#e0e0e0"></div>
<div class="a " style="left:1801.4px;top:1027.2px;width:0.9px;height:29.1px;background:#e0e0e0"></div>
<svg class="a" style="left:1725.0px;top:1034.8px;" width="14" height="14" fill="#444"><use href="#i-toggle"/></svg>
<svg class="a" style="left:1762.1px;top:1034.8px;" width="14" height="14" fill="#444"><use href="#i-columns"/></svg>
<svg class="a" style="left:1783.0px;top:1038.4px;" width="8" height="8" fill="#444"><use href="#i-caret"/></svg>
<svg class="a" style="left:1811.2px;top:1034.8px;" width="14" height="14" fill="#444"><use href="#i-export"/></svg>
<svg class="a" style="left:1832.1px;top:1038.4px;" width="8" height="8" fill="#444"><use href="#i-caret"/></svg>
<div class="a " style="left:1853.5px;top:1027.2px;width:36.4px;height:29.1px;background:#f7f7f7;border:1px solid #e0e0e0;border-radius:3px;box-sizing:border-box"></div>
<svg class="a" style="left:1864.7px;top:1034.8px;" width="14" height="14" fill="#444"><use href="#i-search"/></svg>
<div class="a " style="left:261.0px;top:1105.4px;width:1631.2px;height:1.5px;background:#e4e7ea"></div>
<div class="a" style="left:270.6px;top:1079.8px;width:14.5px;height:14.5px;box-sizing:border-box;border:2.4px solid #a2a2a2;border-radius:2px;background:#fff"></div>
<div class="a t " style="left:306.5px;top:1078.7px;font-weight:bold;color:#333;-webkit-text-stroke:.1px">Id</div>
<div class="a t " style="left:386.0px;top:1078.7px;font-weight:bold;color:#333;-webkit-text-stroke:.1px">订单号</div>
<div class="a t " style="left:503.9px;top:1078.7px;font-weight:bold;color:#333;-webkit-text-stroke:.1px">编号</div>
<div class="a t " style="left:735.9px;top:1078.7px;font-weight:bold;color:#333;-webkit-text-stroke:.1px">UID</div>
<div class="a t " style="left:832.8px;top:1078.7px;font-weight:bold;color:#333;-webkit-text-stroke:.1px">昵称</div>
<div class="a t " style="left:1035.2px;top:1078.7px;font-weight:bold;color:#333;-webkit-text-stroke:.1px">金额</div>
<div class="a t " style="left:1153.0px;top:1078.7px;font-weight:bold;color:#333;-webkit-text-stroke:.1px">支付方式</div>
<div class="a t " style="left:1324.3px;top:1078.7px;font-weight:bold;color:#333;-webkit-text-stroke:.1px">类型</div>
<div class="a t " style="left:1466.0px;top:1078.7px;font-weight:bold;color:#333;-webkit-text-stroke:.1px">支付状态</div>
<div class="a t " style="left:1609.9px;top:1078.7px;font-weight:bold;color:#333;-webkit-text-stroke:.1px">提交时间</div>
<svg class="a" style="left:363.5px;top:1084.5px;" width="9" height="9" fill="#555"><use href="#i-sortd"/></svg>
<svg class="a" style="left:1873.8px;top:1082.8px;" width="10" height="10" fill="#bbb"><use href="#i-sort"/></svg>
<div class="a " style="left:261.0px;top:1107.3px;width:1631.2px;height:35.5px;background:#f9f9f9"></div>
<div class="a " style="left:261.0px;top:1142.3px;width:1631.2px;height:1.0px;background:#eceff1"></div>
<div class="a" style="left:270.6px;top:1117.1px;width:14.5px;height:14.5px;box-sizing:border-box;border:2.4px solid #a2a2a2;border-radius:2px;background:#fff"></div>
<div class="a t " style="left:306.5px;top:1116.7px;">488</div>
<div class="a t " style="left:386.0px;top:1116.7px;">30</div>
<div class="a t " style="left:503.9px;top:1116.7px;">2303311148951</div>
<div class="a t " style="left:735.9px;top:1116.7px;">1548</div>
<div class="a t " style="left:832.8px;top:1116.7px;">站长图库</div>
<div class="a t " style="left:1035.2px;top:1116.7px;">0.50</div>
<div class="a t " style="left:1153.0px;top:1116.7px;">微信小程序</div>
<div class="a " style="left:1324.3px;top:1118.4px;width:49.2px;height:15.9px;background:#cf3530;border-radius:3px;color:rgba(255,255,255,.85);font-size:9.5px;line-height:16px;text-align:center;overflow:hidden;white-space:nowrap">购买产品</div>
<div class="a " style="left:1466.0px;top:1118.4px;width:39.9px;height:15.9px;background:#45484d;border-radius:3px;color:rgba(255,255,255,.85);font-size:9.5px;line-height:16px;text-align:center;overflow:hidden;white-space:nowrap">已支付</div>
<div class="a t " style="left:1609.9px;top:1116.7px;">2023-03-31 11:42:24</div>
<div class="a " style="left:261.0px;top:1177.8px;width:1631.2px;height:1.0px;background:#eceff1"></div>
<div class="a" style="left:270.6px;top:1152.6px;width:14.5px;height:14.5px;box-sizing:border-box;border:2.4px solid #a2a2a2;border-radius:2px;background:#fff"></div>
<div class="a t " style="left:306.5px;top:1150.7px;">487</div>
<div class="a t " style="left:386.0px;top:1150.7px;">29</div>
<div class="a t " style="left:503.9px;top:1150.7px;">2303311171552</div>
<div class="a t " style="left:735.9px;top:1150.7px;">1548</div>
<div class="a t " style="left:832.8px;top:1150.7px;">站长图库</div>
<div class="a t " style="left:1035.2px;top:1150.7px;">0.50</div>
<div class="a t " style="left:1153.0px;top:1150.7px;">微信小程序</div>
<div class="a " style="left:1324.3px;top:1153.9px;width:49.2px;height:15.9px;background:#cf3530;border-radius:3px;color:rgba(255,255,255,.85);font-size:9.5px;line-height:16px;text-align:center;overflow:hidden;white-space:nowrap">购买产品</div>
<div class="a " style="left:1466.0px;top:1153.9px;width:39.9px;height:15.9px;background:#45484d;border-radius:3px;color:rgba(255,255,255,.85);font-size:9.5px;line-height:16px;text-align:center;overflow:hidden;white-space:nowrap">已支付</div>
<div class="a t " style="left:1609.9px;top:1150.7px;">2023-03-31 11:42:22</div>
<div class="a " style="left:261.0px;top:1178.3px;width:1631.2px;height:35.6px;background:#f9f9f9"></div>
<div class="a " style="left:261.0px;top:1213.3px;width:1631.2px;height:1.0px;background:#eceff1"></div>
<div class="a" style="left:270.6px;top:1188.1px;width:14.5px;height:14.5px;box-sizing:border-box;border:2.4px solid #a2a2a2;border-radius:2px;background:#fff"></div>
<div class="a t " style="left:306.5px;top:1188.7px;">486</div>
<div class="a t " style="left:386.0px;top:1188.7px;">—</div>
<div class="a t " style="left:503.9px;top:1188.7px;">2303311122961</div>
<div class="a t " style="left:735.9px;top:1188.7px;">1548</div>
<div class="a t " style="left:832.8px;top:1185.7px;">站长图库</div>
<div class="a t " style="left:1035.2px;top:1188.7px;">30.00</div>
<div class="a t " style="left:1153.0px;top:1185.7px;">微信小程序</div>
<div class="a " style="left:1324.3px;top:1189.4px;width:49.2px;height:15.9px;background:#45484d;border-radius:3px;color:rgba(255,255,255,.85);font-size:9.5px;line-height:16px;text-align:center;overflow:hidden;white-space:nowrap">购买短剧</div>
<div class="a " style="left:1466.0px;top:1189.4px;width:39.9px;height:15.9px;background:#45484d;border-radius:3px;color:rgba(255,255,255,.85);font-size:9.5px;line-height:16px;text-align:center;overflow:hidden;white-space:nowrap">已支付</div>
<div class="a t " style="left:1609.9px;top:1188.7px;">2023-03-31 11:40:54</div>
<div class="a " style="left:261.0px;top:1248.8px;width:1631.2px;height:1.0px;background:#eceff1"></div>
<div class="a" style="left:270.6px;top:1223.6px;width:14.5px;height:14.5px;box-sizing:border-box;border:2.4px solid #a2a2a2;border-radius:2px;background:#fff"></div>
<div class="a t " style="left:306.5px;top:1223.7px;">485</div>
<div class="a t " style="left:386.0px;top:1223.7px;">—</div>
<div class="a t " style="left:503.9px;top:1223.7px;">2303281168471</div>
<div class="a t " style="left:735.9px;top:1223.7px;">1547</div>
<div class="a t " style="left:832.8px;top:1223.7px;">-</div>
<div class="a t " style="left:1035.2px;top:1223.7px;">30.00</div>
<div class="a t " style="left:1153.0px;top:1220.7px;">微信小程序</div>
<div class="a " style="left:1324.3px;top:1225.0px;width:49.2px;height:15.9px;background:#45484d;border-radius:3px;color:rgba(255,255,255,.85);font-size:9.5px;line-height:16px;text-align:center;overflow:hidden;white-space:nowrap">购买短剧</div>
<div class="a " style="left:1466.0px;top:1225.0px;width:39.9px;height:15.9px;background:#45484d;border-radius:3px;color:rgba(255,255,255,.85);font-size:9.5px;line-height:16px;text-align:center;overflow:hidden;white-space:nowrap">已支付</div>
<div class="a t " style="left:1609.9px;top:1223.7px;">2023-03-28 22:09:14</div>
<div class="a " style="left:261.0px;top:1249.4px;width:1631.2px;height:35.5px;background:#f9f9f9"></div>
<div class="a " style="left:261.0px;top:1284.3px;width:1631.2px;height:1.0px;background:#eceff1"></div>
<div class="a" style="left:270.6px;top:1259.1px;width:14.5px;height:14.5px;box-sizing:border-box;border:2.4px solid #a2a2a2;border-radius:2px;background:#fff"></div>
<div class="a t " style="left:306.5px;top:1257.7px;">484</div>
<div class="a t " style="left:386.0px;top:1257.7px;">—</div>
<div class="a t " style="left:503.9px;top:1257.7px;">2303041174631</div>
<div class="a t " style="left:735.9px;top:1257.7px;">1545</div>
<div class="a t " style="left:832.8px;top:1257.7px;">15897808001</div>
<div class="a t " style="left:1035.2px;top:1257.7px;">100.00</div>
<div class="a t " style="left:1153.0px;top:1257.7px;">微信h5</div>
<div class="a " style="left:1324.3px;top:1260.5px;width:49.2px;height:15.9px;background:#45484d;border-radius:3px;color:rgba(255,255,255,.85);font-size:9.5px;line-height:16px;text-align:center;overflow:hidden;white-space:nowrap">购买短剧</div>
<div class="a " style="left:1466.0px;top:1260.5px;width:39.9px;height:15.9px;background:#45484d;border-radius:3px;color:rgba(255,255,255,.85);font-size:9.5px;line-height:16px;text-align:center;overflow:hidden;white-space:nowrap">已支付</div>
<div class="a t " style="left:1609.9px;top:1257.7px;">2023-03-04 13:02:16</div>
<div class="a " style="left:261.0px;top:1319.8px;width:1631.2px;height:1.0px;background:#eceff1"></div>
<div class="a" style="left:270.6px;top:1294.6px;width:14.5px;height:14.5px;box-sizing:border-box;border:2.4px solid #a2a2a2;border-radius:2px;background:#fff"></div>
<div class="a t " style="left:306.5px;top:1292.7px;">483</div>
<div class="a t " style="left:386.0px;top:1292.7px;">—</div>
<div class="a t " style="left:503.9px;top:1292.7px;">2303041235522</div>
<div class="a t " style="left:735.9px;top:1292.7px;">1545</div>
<div class="a t " style="left:832.8px;top:1292.7px;">15897808001</div>
<div class="a t " style="left:1035.2px;top:1292.7px;">100.00</div>
<div class="a t " style="left:1153.0px;top:1292.7px;">微信h5</div>
<div class="a " style="left:1324.3px;top:1296.0px;width:49.2px;height:15.9px;background:#45484d;border-radius:3px;color:rgba(255,255,255,.85);font-size:9.5px;line-height:16px;text-align:center;overflow:hidden;white-space:nowrap">购买短剧</div>
<div class="a " style="left:1466.0px;top:1296.0px;width:39.9px;height:15.9px;background:#45484d;border-radius:3px;color:rgba(255,255,255,.85);font-size:9.5px;line-height:16px;text-align:center;overflow:hidden;white-space:nowrap">已支付</div>
<div class="a t " style="left:1609.9px;top:1292.7px;">2023-03-04 12:12:27</div>
<div class="a " style="left:261.0px;top:1320.4px;width:1631.2px;height:35.5px;background:#f9f9f9"></div>
<div class="a " style="left:261.0px;top:1355.3px;width:1631.2px;height:1.0px;background:#eceff1"></div>
<div class="a" style="left:270.6px;top:1330.1px;width:14.5px;height:14.5px;box-sizing:border-box;border:2.4px solid #a2a2a2;border-radius:2px;background:#fff"></div>
<div class="a t " style="left:306.5px;top:1330.7px;">482</div>
<div class="a t " style="left:386.0px;top:1330.7px;">21</div>
<div class="a t " style="left:503.9px;top:1330.7px;">2303021261549</div>
<div class="a t " style="left:735.9px;top:1330.7px;">1</div>
<div class="a t " style="left:832.8px;top:1327.7px;">蜗牛玩具77</div>
<div class="a t " style="left:1035.2px;top:1330.7px;">1.00</div>
<div class="a t " style="left:1153.0px;top:1327.7px;">微信h5</div>
<div class="a " style="left:1324.3px;top:1331.5px;width:49.2px;height:15.9px;background:#cf3530;border-radius:3px;color:rgba(255,255,255,.85);font-size:9.5px;line-height:16px;text-align:center;overflow:hidden;white-space:nowrap">购买产品</div>
<div class="a " style="left:1466.0px;top:1331.5px;width:39.9px;height:15.9px;background:#45484d;border-radius:3px;color:rgba(255,255,255,.85);font-size:9.5px;line-height:16px;text-align:center;overflow:hidden;white-space:nowrap">已支付</div>
<div class="a t " style="left:1609.9px;top:1330.7px;">2023-03-02 12:31:19</div>
<div class="a " style="left:261.0px;top:1390.8px;width:1631.2px;height:1.0px;background:#eceff1"></div>
<div class="a" style="left:270.6px;top:1365.6px;width:14.5px;height:14.5px;box-sizing:border-box;border:2.4px solid #a2a2a2;border-radius:2px;background:#fff"></div>
<div class="a t " style="left:306.5px;top:1364.7px;">481</div>
<div class="a t " style="left:386.0px;top:1364.7px;">—</div>
<div class="a t " style="left:503.9px;top:1364.7px;">2303021245849</div>
<div class="a t " style="left:735.9px;top:1364.7px;">1</div>
<div class="a t " style="left:832.8px;top:1364.7px;">蜗牛玩具77</div>
<div class="a t " style="left:1035.2px;top:1364.7px;">30.00</div>
<div class="a t " style="left:1153.0px;top:1364.7px;">微信h5</div>
<div class="a " style="left:1324.3px;top:1367.0px;width:49.2px;height:15.9px;background:#45484d;border-radius:3px;color:rgba(255,255,255,.85);font-size:9.5px;line-height:16px;text-align:center;overflow:hidden;white-space:nowrap">购买短剧</div>
<div class="a " style="left:1466.0px;top:1367.0px;width:39.9px;height:15.9px;background:#45484d;border-radius:3px;color:rgba(255,255,255,.85);font-size:9.5px;line-height:16px;text-align:center;overflow:hidden;white-space:nowrap">已支付</div>
<div class="a t " style="left:1609.9px;top:1364.7px;">2023-03-02 12:26:51</div>
<div class="a " style="left:261.0px;top:1391.4px;width:1631.2px;height:35.5px;background:#f9f9f9"></div>
<div class="a " style="left:261.0px;top:1426.3px;width:1631.2px;height:1.0px;background:#eceff1"></div>
<div class="a" style="left:270.6px;top:1401.1px;width:14.5px;height:14.5px;box-sizing:border-box;border:2.4px solid #a2a2a2;border-radius:2px;background:#fff"></div>
<div class="a t " style="left:306.5px;top:1399.7px;">480</div>
<div class="a t " style="left:386.0px;top:1399.7px;">—</div>
<div class="a t " style="left:503.9px;top:1399.7px;">2303021055214</div>
<div class="a t " style="left:735.9px;top:1399.7px;">1538</div>
<div class="a t " style="left:832.8px;top:1399.7px;">18960762796</div>
<div class="a t " style="left:1035.2px;top:1399.7px;">30.00</div>
<div class="a t " style="left:1153.0px;top:1399.7px;">微信h5</div>
<div class="a " style="left:1324.3px;top:1402.5px;width:49.2px;height:15.9px;background:#45484d;border-radius:3px;color:rgba(255,255,255,.85);font-size:9.5px;line-height:16px;text-align:center;overflow:hidden;white-space:nowrap">购买短剧</div>
<div class="a " style="left:1466.0px;top:1402.5px;width:39.9px;height:15.9px;background:#45484d;border-radius:3px;color:rgba(255,255,255,.85);font-size:9.5px;line-height:16px;text-align:center;overflow:hidden;white-space:nowrap">已支付</div>
<div class="a t " style="left:1609.9px;top:1399.7px;">2023-03-02 10:29:16</div>
<div class="a " style="left:261.0px;top:1461.8px;width:1631.2px;height:1.0px;background:#eceff1"></div>
<div class="a" style="left:270.6px;top:1436.7px;width:14.5px;height:14.5px;box-sizing:border-box;border:2.4px solid #a2a2a2;border-radius:2px;background:#fff"></div>
<div class="a t " style="left:306.5px;top:1437.7px;">479</div>
<div class="a t " style="left:386.0px;top:1437.7px;">19</div>
<div class="a t " style="left:503.9px;top:1437.7px;">2303021077809</div>
<div class="a t " style="left:735.9px;top:1437.7px;">1538</div>
<div class="a t " style="left:832.8px;top:1437.7px;">18960762796</div>
<div class="a t " style="left:1035.2px;top:1437.7px;">100.00</div>
<div class="a t " style="left:1153.0px;top:1434.7px;">微信h5</div>
<div class="a " style="left:1324.3px;top:1438.0px;width:49.2px;height:15.9px;background:#cf3530;border-radius:3px;color:rgba(255,255,255,.85);font-size:9.5px;line-height:16px;text-align:center;overflow:hidden;white-space:nowrap">购买产品</div>
<div class="a " style="left:1466.0px;top:1438.0px;width:39.9px;height:15.9px;background:#45484d;border-radius:3px;color:rgba(255,255,255,.85);font-size:9.5px;line-height:16px;text-align:center;overflow:hidden;white-space:nowrap">已支付</div>
<div class="a t " style="left:1609.9px;top:1437.7px;">2023-03-02 10:26:09</div>
<div class="a t " style="left:261.0px;top:1480.7px;color:#333">显示第 1 到第 10 条记录，总共 488 条记录 每页显示</div>
<div class="a " style="left:568.2px;top:1475.9px;width:49.4px;height:29.7px;background:#f4f4f4;border:1px solid #ddd;border-radius:3px;box-sizing:border-box"></div>
<div class="a t " style="left:582.1px;top:1480.7px;color:#333">10</div>
<svg class="a" style="left:596.9px;top:1487.2px;" width="8" height="8" fill="#444"><use href="#i-caretup"/></svg>
<div class="a t " style="left:625.4px;top:1480.7px;color:#333">条记录</div>
<div class="a " style="left:1416.3px;top:1475.6px;width:62.3px;height:29.7px;background:#fff;color:#444;border:1px solid #e3e6e9;box-sizing:border-box;text-align:center;line-height:28px;letter-spacing:-0.6px;white-space:nowrap;overflow:hidden">上一页</div>
<div class="a " style="left:1477.6px;top:1475.6px;width:35.1px;height:29.7px;background:#2c3e50;color:#fff;border:1px solid #2c3e50;box-sizing:border-box;text-align:center;line-height:28px;letter-spacing:-0.6px;white-space:nowrap;overflow:hidden">1</div>
<div class="a " style="left:1511.7px;top:1475.6px;width:33.4px;height:29.7px;background:#fff;color:#444;border:1px solid #e3e6e9;box-sizing:border-box;text-align:center;line-height:28px;letter-spacing:-0.6px;white-space:nowrap;overflow:hidden">2</div>
<div class="a " style="left:1544.1px;top:1475.6px;width:33.4px;height:29.7px;background:#fff;color:#444;border:1px solid #e3e6e9;box-sizing:border-box;text-align:center;line-height:28px;letter-spacing:-0.6px;white-space:nowrap;overflow:hidden">3</div>
<div class="a " style="left:1576.5px;top:1475.6px;width:33.4px;height:29.7px;background:#fff;color:#444;border:1px solid #e3e6e9;box-sizing:border-box;text-align:center;line-height:28px;letter-spacing:-0.6px;white-space:nowrap;overflow:hidden">4</div>
<div class="a " style="left:1608.9px;top:1475.6px;width:33.4px;height:29.7px;background:#fff;color:#444;border:1px solid #e3e6e9;box-sizing:border-box;text-align:center;line-height:28px;letter-spacing:-0.6px;white-space:nowrap;overflow:hidden">5</div>
<div class="a " style="left:1641.3px;top:1475.6px;width:36.0px;height:29.7px;background:#fff;color:#444;border:1px solid #e3e6e9;box-sizing:border-box;text-align:center;line-height:28px;letter-spacing:-0.6px;white-space:nowrap;overflow:hidden">...</div>
<div class="a " style="left:1676.2px;top:1475.6px;width:41.5px;height:29.7px;background:#fff;color:#444;border:1px solid #e3e6e9;box-sizing:border-box;text-align:center;line-height:28px;letter-spacing:-0.6px;white-space:nowrap;overflow:hidden">49</div>
<div class="a " style="left:1716.7px;top:1475.6px;width:63.5px;height:29.7px;background:#fff;color:#444;border:1px solid #e3e6e9;box-sizing:border-box;text-align:center;line-height:28px;letter-spacing:-0.6px;white-space:nowrap;overflow:hidden">下一页</div>
<div class="a " style="left:1784.7px;top:1475.6px;width:51.4px;height:29.7px;background:#fff;border:1px solid #d2d6de;box-sizing:border-box"></div>
<div class="a " style="left:1841.9px;top:1475.6px;width:46.9px;height:29.7px;background:#f4f4f4;border:1px solid #ddd;border-radius:3px;box-sizing:border-box;text-align:center;line-height:28px;letter-spacing:-0.6px;color:#444">跳转</div>
<div class="a" style="left:1902.6px;top:1167.9px;width:44px;height:44px;border-radius:50%;background:radial-gradient(circle,#62e07a 0%,#45c95e 60%,#2fa84a 100%);box-shadow:0 1px 5px rgba(0,0,0,.35)"></div><svg class="a" style="left:1907.1px;top:1183.4px;" width="13" height="13" fill="#c9f7d1"><use href="#i-share"/></svg>
</div></div>
</body></html>
